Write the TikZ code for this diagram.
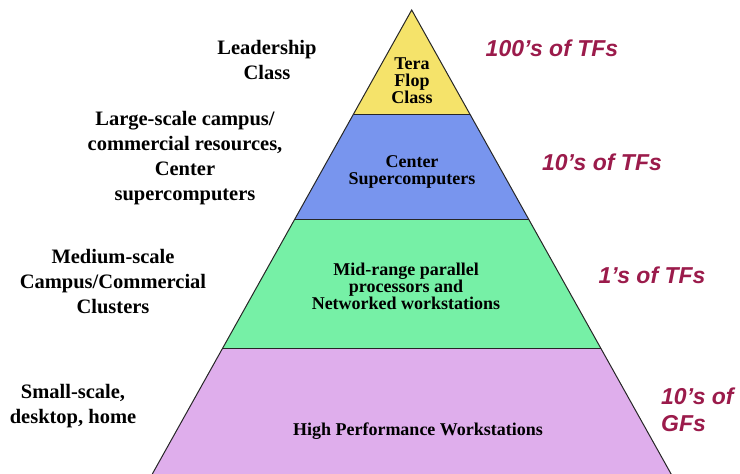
\documentclass[tikz,border=0pt]{standalone}
\usepackage{fontspec}
\setmainfont{Liberation Serif}
\newfontfamily\ratefont{Liberation Sans}

\definecolor{teracol}{HTML}{F5E36A}
\definecolor{centercol}{HTML}{7895EE}
\definecolor{midcol}{HTML}{76F0A6}
\definecolor{workcol}{HTML}{DFAEEC}
\definecolor{ratecol}{HTML}{9B1B4B}

\begin{document}
\begin{tikzpicture}[x=1pt,y=-1pt,
   tier/.style={draw=black!85,line width=1pt,line join=miter},
   side label/.style={inner sep=0pt,align=center,
     font=\fontsize{20.5}{25}\selectfont\bfseries},
   tier label/.style={inner sep=0pt,align=center,
     font=\fontsize{18}{17}\selectfont\bfseries},
   rate label/.style={inner sep=0pt,text=ratecol,
     font=\fontsize{23}{27}\selectfont\ratefont\bfseries\itshape}]
\useasboundingbox (0,0) rectangle (740,474);
% pyramid tiers, top to bottom
\fill[teracol] (411.7,10) -- (469.8,114) -- (353.6,114) -- cycle;
\fill[centercol] (353.6,114) -- (469.8,114) -- (528.8,219.5) -- (294.6,219.5) -- cycle;
\fill[midcol] (294.6,219.5) -- (528.8,219.5) -- (600.6,348) -- (222.8,348) -- cycle;
\fill[workcol] (222.8,348) -- (600.6,348) -- (671.1,474) -- (152.3,474) -- cycle;
\draw[tier] (152.3,474) -- (411.7,10) -- (671.1,474);
\draw[tier] (353.6,114) -- (469.8,114);
\draw[tier] (294.6,219.5) -- (528.8,219.5);
\draw[tier] (222.8,348) -- (600.6,348);
% texts inside the pyramid
\node[tier label] (tera) at (412,81) {Tera\\Flop\\Class};
\node[tier label] (center) at (412,172) {Center\\Supercomputers};
\node[tier label] (midrange) at (406,286) {Mid-range parallel\\processors and\\Networked workstations};
\node[tier label] (hpw) at (418,431) {High Performance Workstations};
% who uses each tier
\node[side label] (leader) at (267,59.5) {Leadership\\Class};
\node[side label] (large) at (185,158) {Large-scale campus/\\commercial resources,\\Center\\supercomputers};
\node[side label] (medium) at (113,282) {Medium-scale\\Campus/Commercial\\Clusters};
\node[side label] (small) at (73,406) {Small-scale,\\desktop, home};
% performance of each tier
\node[rate label] (rtera) at (552,48) {100’s of TFs};
\node[rate label] (rcenter) at (602,162) {10’s of TFs};
\node[rate label] (rmid) at (652,275) {1’s of TFs};
\node[rate label,align=left,anchor=west] (rhpw) at (661,410) {10’s of\\GFs};
\end{tikzpicture}
\end{document}
